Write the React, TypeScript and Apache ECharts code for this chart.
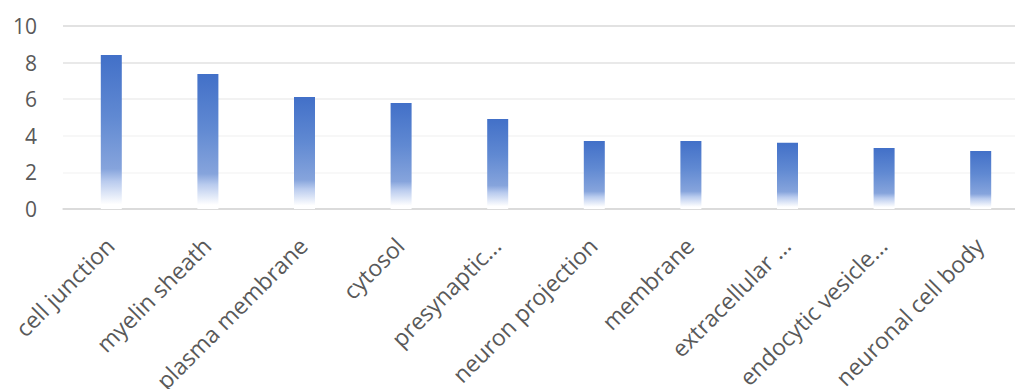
import React, { useEffect, useRef } from "react";
import * as echarts from "echarts";

const categories = [
  "cell junction",
  "myelin sheath",
  "plasma membrane",
  "cytosol",
  "presynaptic...",
  "neuron projection",
  "membrane",
  "extracellular ...",
  "endocytic vesicle...",
  "neuronal cell body",
];
const values = [8.42, 7.38, 6.12, 5.79, 4.92, 3.72, 3.72, 3.62, 3.33, 3.17];
const yTicks = { min: 0, max: 10, interval: 2 };

export default function App() {
  const ref = useRef<HTMLDivElement>(null);
  useEffect(() => {
    if (!ref.current) return;
    const chart = echarts.init(ref.current, null, { renderer: "svg" });
    chart.setOption({
      animation: false,
      backgroundColor: "#ffffff",
      grid: {
        left: 63,
        right: 0,
        top: 26,
        bottom: 180,
        containLabel: false,
        outerBoundsMode: "none",
      },
      xAxis: {
        type: "category",
        data: categories,
        axisLine: { show: true, lineStyle: { color: "#d9d9d9", width: 1.5 } },
        axisTick: { show: false },
        axisLabel: {
          rotate: 45,
          interval: 0,
          margin: 31,
          padding: [0, 2, 0, 0],
          color: "#595959",
          fontFamily: "Open Sans",
          fontSize: 23,
        },
      },
      yAxis: {
        type: "value",
        min: yTicks.min,
        max: yTicks.max,
        interval: yTicks.interval,
        axisLine: { show: false },
        axisTick: { show: false },
        axisLabel: {
          margin: 26,
          color: "#595959",
          fontFamily: "Open Sans",
          fontSize: 21,
        },
        splitLine: {
          lineStyle: {
            color: ["#d9d9d9", "#f6f6f6", "#f4f4f4", "#eeeeee", "#e2e2e2", "#d9d9d9"],
            width: 1.5,
          },
        },
      },
      series: [
        {
          type: "bar",
          data: values,
          barWidth: 21,
          itemStyle: {
            color: new echarts.graphic.LinearGradient(0, 0, 0, 1, [
              { offset: 0, color: "#4270c8" },
              { offset: 0.4, color: "#6089d2" },
              { offset: 0.74, color: "#86a4dc" },
              { offset: 0.82, color: "#b9cbee" },
              { offset: 0.97, color: "#ffffff" },
              { offset: 1, color: "#ffffff" },
            ]),
          },
        },
      ],
    });
    return () => chart.dispose();
  }, []);
  return (
    <div
      style={{
        position: "fixed",
        left: 0,
        top: 0,
        width: 1015,
        height: 389,
        overflow: "hidden",
        background: "#ffffff",
      }}
    >
      <div ref={ref} style={{ width: 1029, height: 389 }} />
    </div>
  );
}
